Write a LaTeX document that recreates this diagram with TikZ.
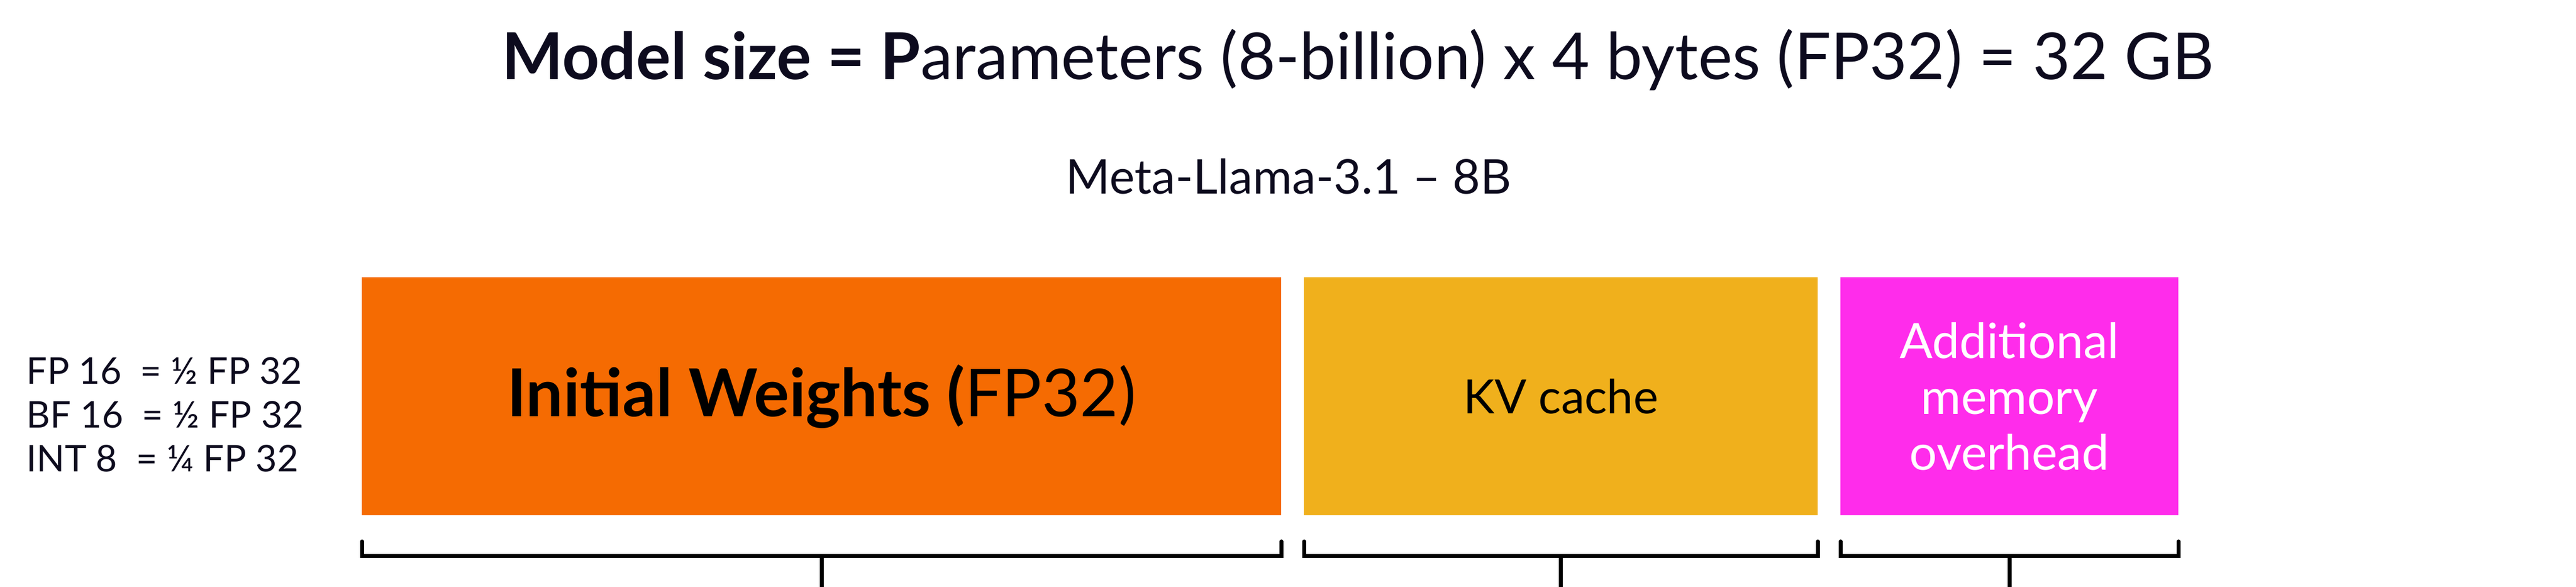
\documentclass[tikz,border=0pt]{standalone}
\usepackage{fontspec}
\setmainfont{Lato}
\usepackage{tikz}
\usetikzlibrary{positioning}

\definecolor{ink}{HTML}{0D0B1E}
\definecolor{wtsorange}{HTML}{F56B02}
\definecolor{kvgold}{HTML}{F0B01C}
\definecolor{ovhpink}{HTML}{FF2CEB}

\begin{document}
\begin{tikzpicture}[
                block/.style={rectangle, inner sep=0pt, outer sep=0pt, minimum height=4.18cm, align=center}, % Memory blocks
                bracket/.style={draw=black, line width=0.07cm, line cap=round}, % Brackets under the blocks
                note/.style={anchor=base west, inner sep=0pt, text=ink, font=\fontsize{18.4}{21.9}\selectfont} % Precision notes on the left
                ]
                \useasboundingbox (0,0) rectangle (45.28,10.31);
                \node[anchor=base, inner sep=0pt, text=ink, font=\fontsize{32.4}{38}\selectfont] (title) at (23.87,8.91) {\textbf{Model size = P}arameters (8-billion) x 4 bytes (FP32) = 32 GB};
                \node[anchor=base, inner sep=0pt, text=ink, font=\fontsize{23.9}{28}\selectfont] (model) at (22.65,6.90) {Meta-Llama-3.1 -- 8B};
                \node[block, fill=wtsorange, minimum width=16.16cm, font=\fontsize{33}{38}\selectfont] (wts) at (14.44,3.35) {\textbf{Initial Weights (}FP32)};
                \node[block, fill=kvgold, minimum width=9.03cm, right=0.4cm of wts, font=\fontsize{23.6}{28}\selectfont] (kv) {KV cache};
                \node[block, fill=ovhpink, minimum width=5.94cm, right=0.4cm of kv, text=white, font=\fontsize{24.4}{27.9}\selectfont] (ovh) {Additional\\memory\\overhead};
                \foreach \kind/\share [count=\i] in {FP 16/½, BF 16/½, INT 8/¼}
                    \node[note] (note\i) at (0.46,{4.33-0.77*\i}) {\kind\ \ = \share\ FP 32};
                \foreach \b in {wts, kv, ovh} {
                    \draw[bracket] ([yshift=-0.46cm]\b.south west) -- ([yshift=-0.72cm]\b.south west) -- ([yshift=-0.72cm]\b.south east) -- ([yshift=-0.46cm]\b.south east);
                    \draw[bracket] ([yshift=-0.72cm]\b.south) -- ([yshift=-1.3cm]\b.south);
                }
\end{tikzpicture}
\end{document}
